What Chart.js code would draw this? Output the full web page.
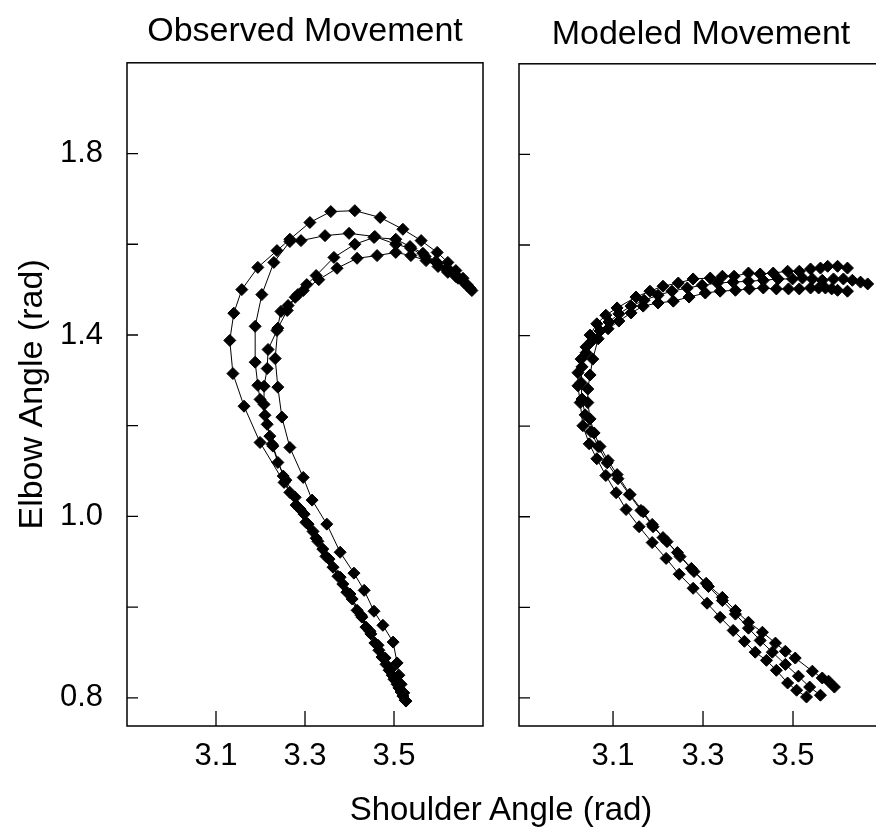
<!DOCTYPE html>
<html>
<head>
<meta charset="utf-8">
<title>Observed vs Modeled Movement</title>
<script src="https://cdn.jsdelivr.net/npm/chart.js@4.4.1/dist/chart.umd.min.js"></script>
<style>
  html, body { margin: 0; padding: 0; background: #fff; overflow: hidden; }
  #wrap { position: relative; width: 876px; height: 833px; overflow: hidden; }
  #leftChart { position: absolute; left: 0; top: 0; }
  #rightChart { position: absolute; left: 500px; top: 0; }
  #xTitle {
    position: absolute; left: 1px; width: 1000px; top: 792px;
    text-align: center; font: 33px 'Liberation Sans', Arial, sans-serif;
    line-height: 33px; color: #000;
  }
</style>
</head>
<body>
<div id="wrap">
  <canvas id="leftChart" width="500" height="833"></canvas>
  <canvas id="rightChart" width="400" height="833"></canvas>
  <div id="xTitle">Shoulder Angle (rad)</div>
</div>
<script>
// tick positions and labels
const xTickValues = [3.1, 3.3, 3.5];
const yTickValues = [0.6, 0.8, 1.0, 1.2, 1.4, 1.6, 1.8];
const yTickLabels = ['0.8', '', '1.0', '', '1.4', '', '1.8'];

// observed trajectories (shoulder, elbow)
const observedX1 = [3.525,3.516,3.507,3.496,3.482,3.466,3.448,3.428,3.401,3.379,3.354,3.329,3.302,3.280,3.253,3.199,3.163,3.138,3.131,3.140,3.158,3.194,3.237,3.266,3.311,3.358,3.412,3.469,3.520,3.561,3.597,3.621,3.639,3.655,3.671];
const observedY1 = [0.595,0.613,0.630,0.650,0.674,0.705,0.741,0.778,0.829,0.866,0.906,0.945,0.987,1.025,1.075,1.163,1.243,1.315,1.388,1.448,1.500,1.549,1.586,1.611,1.648,1.672,1.674,1.659,1.633,1.608,1.582,1.560,1.542,1.525,1.503];

const observedX2 = [3.520,3.511,3.500,3.489,3.473,3.457,3.437,3.417,3.394,3.374,3.347,3.325,3.307,3.289,3.266,3.251,3.228,3.221,3.210,3.199,3.194,3.188,3.188,3.203,3.230,3.266,3.291,3.345,3.399,3.457,3.504,3.538,3.570,3.597,3.619,3.639,3.657];
const observedY2 = [0.604,0.622,0.641,0.661,0.690,0.721,0.756,0.793,0.833,0.868,0.912,0.952,0.983,1.016,1.053,1.089,1.155,1.177,1.223,1.258,1.289,1.340,1.419,1.489,1.560,1.606,1.608,1.619,1.624,1.617,1.600,1.591,1.573,1.558,1.542,1.529,1.516];

const observedX3 = [3.504,3.493,3.480,3.464,3.446,3.426,3.406,3.385,3.363,3.340,3.318,3.298,3.278,3.257,3.239,3.226,3.215,3.208,3.208,3.215,3.217,3.237,3.246,3.262,3.284,3.304,3.325,3.365,3.412,3.455,3.504,3.536,3.565,3.594,3.619,3.642,3.664];
const observedY3 = [0.639,0.663,0.688,0.716,0.747,0.782,0.818,0.851,0.888,0.928,0.967,1.005,1.042,1.080,1.119,1.159,1.203,1.247,1.287,1.326,1.368,1.410,1.452,1.465,1.489,1.511,1.531,1.571,1.600,1.615,1.611,1.595,1.580,1.562,1.547,1.529,1.511];

const observedX4 = [3.527,3.522,3.516,3.511,3.507,3.498,3.475,3.455,3.433,3.410,3.379,3.349,3.316,3.296,3.266,3.248,3.239,3.233,3.239,3.260,3.278,3.296,3.331,3.372,3.417,3.462,3.504,3.538,3.572,3.599,3.621,3.644,3.664,3.675];
const observedY4 = [0.593,0.611,0.630,0.650,0.677,0.723,0.760,0.791,0.837,0.875,0.921,0.983,1.036,1.086,1.152,1.219,1.285,1.348,1.415,1.454,1.483,1.498,1.522,1.547,1.569,1.575,1.582,1.575,1.564,1.551,1.538,1.525,1.509,1.498];

// modeled trajectories
const modeledX1 = [3.530,3.508,3.488,3.463,3.441,3.416,3.392,3.367,3.338,3.309,3.278,3.247,3.218,3.187,3.158,3.129,3.107,3.084,3.064,3.047,3.033,3.027,3.022,3.022,3.029,3.040,3.049,3.064,3.084,3.109,3.151,3.182,3.211,3.245,3.278,3.316,3.343,3.369,3.401,3.427,3.456,3.488,3.514,3.539,3.561,3.577,3.599,3.621];
const modeledY1 = [0.602,0.617,0.633,0.661,0.683,0.701,0.725,0.749,0.778,0.809,0.842,0.873,0.908,0.943,0.978,1.016,1.053,1.091,1.128,1.161,1.201,1.252,1.289,1.318,1.348,1.375,1.401,1.426,1.445,1.461,1.485,1.498,1.509,1.516,1.525,1.527,1.531,1.531,1.538,1.536,1.538,1.542,1.542,1.547,1.549,1.553,1.553,1.549];

const modeledX2 = [3.561,3.537,3.512,3.483,3.454,3.427,3.401,3.372,3.343,3.312,3.280,3.249,3.220,3.189,3.162,3.136,3.111,3.087,3.067,3.051,3.038,3.031,3.029,3.031,3.040,3.053,3.071,3.091,3.113,3.140,3.169,3.200,3.231,3.265,3.298,3.332,3.367,3.401,3.434,3.467,3.499,3.521,3.543,3.565,3.590,3.612,3.632,3.650,3.666];
const modeledY2 = [0.606,0.624,0.648,0.674,0.701,0.727,0.754,0.785,0.815,0.846,0.879,0.912,0.945,0.978,1.014,1.049,1.084,1.119,1.155,1.188,1.225,1.260,1.296,1.331,1.362,1.388,1.410,1.430,1.448,1.465,1.478,1.489,1.498,1.505,1.511,1.516,1.518,1.520,1.522,1.525,1.525,1.527,1.525,1.522,1.525,1.525,1.522,1.518,1.514];

const modeledX3 = [3.592,3.579,3.565,3.543,3.505,3.483,3.461,3.432,3.401,3.372,3.343,3.307,3.274,3.243,3.211,3.187,3.167,3.138,3.109,3.089,3.071,3.058,3.049,3.044,3.044,3.049,3.055,3.067,3.089,3.113,3.140,3.167,3.200,3.234,3.269,3.305,3.338,3.372,3.403,3.434,3.463,3.490,3.514,3.539,3.557,3.572,3.586,3.599,3.621];
const modeledY3 = [0.624,0.637,0.644,0.659,0.688,0.703,0.721,0.745,0.767,0.793,0.822,0.853,0.886,0.921,0.954,0.983,1.011,1.049,1.093,1.124,1.155,1.185,1.216,1.252,1.282,1.313,1.348,1.393,1.415,1.432,1.450,1.465,1.472,1.476,1.485,1.494,1.498,1.500,1.503,1.505,1.503,1.503,1.503,1.505,1.505,1.505,1.503,1.500,1.498];

Chart.defaults.font.family = "'Liberation Sans', Arial, sans-serif";
Chart.defaults.color = '#000';

function toPoints(xs, ys) {
  return xs.map((x, i) => ({ x: x, y: ys[i] }));
}

function trace(xs, ys) {
  return {
    data: toPoints(xs, ys),
    showLine: true,
    borderColor: '#000',
    borderWidth: 1,
    pointStyle: 'rectRot',
    pointRadius: 6,
    pointBackgroundColor: '#000',
    pointBorderColor: '#000',
    pointBorderWidth: 1,
    tension: 0
  };
}

// box around the plot area plus short tick marks pointing inward
const frameTicks = {
  id: 'frameTicks',
  afterDatasetsDraw(chart) {
    const { ctx, chartArea: a, scales: { x, y } } = chart;
    ctx.save();
    ctx.strokeStyle = '#000';
    ctx.lineWidth = 1.5;
    ctx.strokeRect(a.left, a.top, a.right - a.left, a.bottom - a.top);
    ctx.lineWidth = 1.3;
    ctx.beginPath();
    xTickValues.forEach(v => {
      const px = x.getPixelForValue(v);
      ctx.moveTo(px, a.bottom);
      ctx.lineTo(px, a.bottom - 15);
    });
    yTickValues.forEach(v => {
      const py = y.getPixelForValue(v);
      ctx.moveTo(a.left, py);
      ctx.lineTo(a.left + 11, py);
    });
    ctx.stroke();
    ctx.restore();
  }
};

function panelOptions(opts) {
  return {
    responsive: false,
    animation: false,
    events: [],
    layout: { padding: { left: 0, right: opts.rightPad, top: 0, bottom: 0 } },
    plugins: {
      legend: { display: false },
      tooltip: { enabled: false },
      title: {
        display: true,
        text: opts.title,
        fullSize: false,
        font: { size: 34, weight: 'normal' },
        padding: { top: opts.titleTop, bottom: opts.titleBottom }
      }
    },
    scales: {
      x: {
        type: 'linear',
        min: opts.xMin,
        max: 3.7,
        grid: { display: false, drawTicks: false },
        border: { display: false },
        afterBuildTicks: s => { s.ticks = xTickValues.map(v => ({ value: v })); },
        afterFit: s => { s.height = 107; },
        ticks: {
          font: { size: 31 },
          padding: 12,
          maxRotation: 0,
          callback: v => v.toFixed(1)
        }
      },
      y: {
        type: 'linear',
        min: 0.538,
        max: 2.0,
        grid: { display: false, drawTicks: false },
        border: { display: false },
        afterBuildTicks: s => { s.ticks = yTickValues.map(v => ({ value: v })); },
        afterFit: s => { s.width = opts.yWidth; },
        ticks: {
          display: opts.yLabels,
          font: { size: 31 },
          padding: 24,
          callback: v => yTickLabels[yTickValues.indexOf(v)]
        },
        title: {
          display: opts.yLabels,
          text: 'Elbow Angle (rad)',
          font: { size: 34 },
          padding: { top: 12, bottom: 0 }
        }
      }
    }
  };
}

new Chart(document.getElementById('leftChart'), {
  type: 'scatter',
  data: {
    datasets: [
      trace(observedX1, observedY1),
      trace(observedX2, observedY2),
      trace(observedX3, observedY3),
      trace(observedX4, observedY4)
    ]
  },
  options: panelOptions({
    title: 'Observed Movement', xMin: 2.9, rightPad: 17, yWidth: 127,
    yLabels: true, titleTop: 11, titleBottom: 11
  }),
  plugins: [frameTicks]
});

new Chart(document.getElementById('rightChart'), {
  type: 'scatter',
  data: {
    datasets: [
      trace(modeledX1, modeledY1),
      trace(modeledX2, modeledY2),
      trace(modeledX3, modeledY3)
    ]
  },
  options: panelOptions({
    title: 'Modeled Movement', xMin: 2.891, rightPad: 17, yWidth: 19,
    yLabels: false, titleTop: 14, titleBottom: 9
  }),
  plugins: [frameTicks]
});
</script>
</body>
</html>
